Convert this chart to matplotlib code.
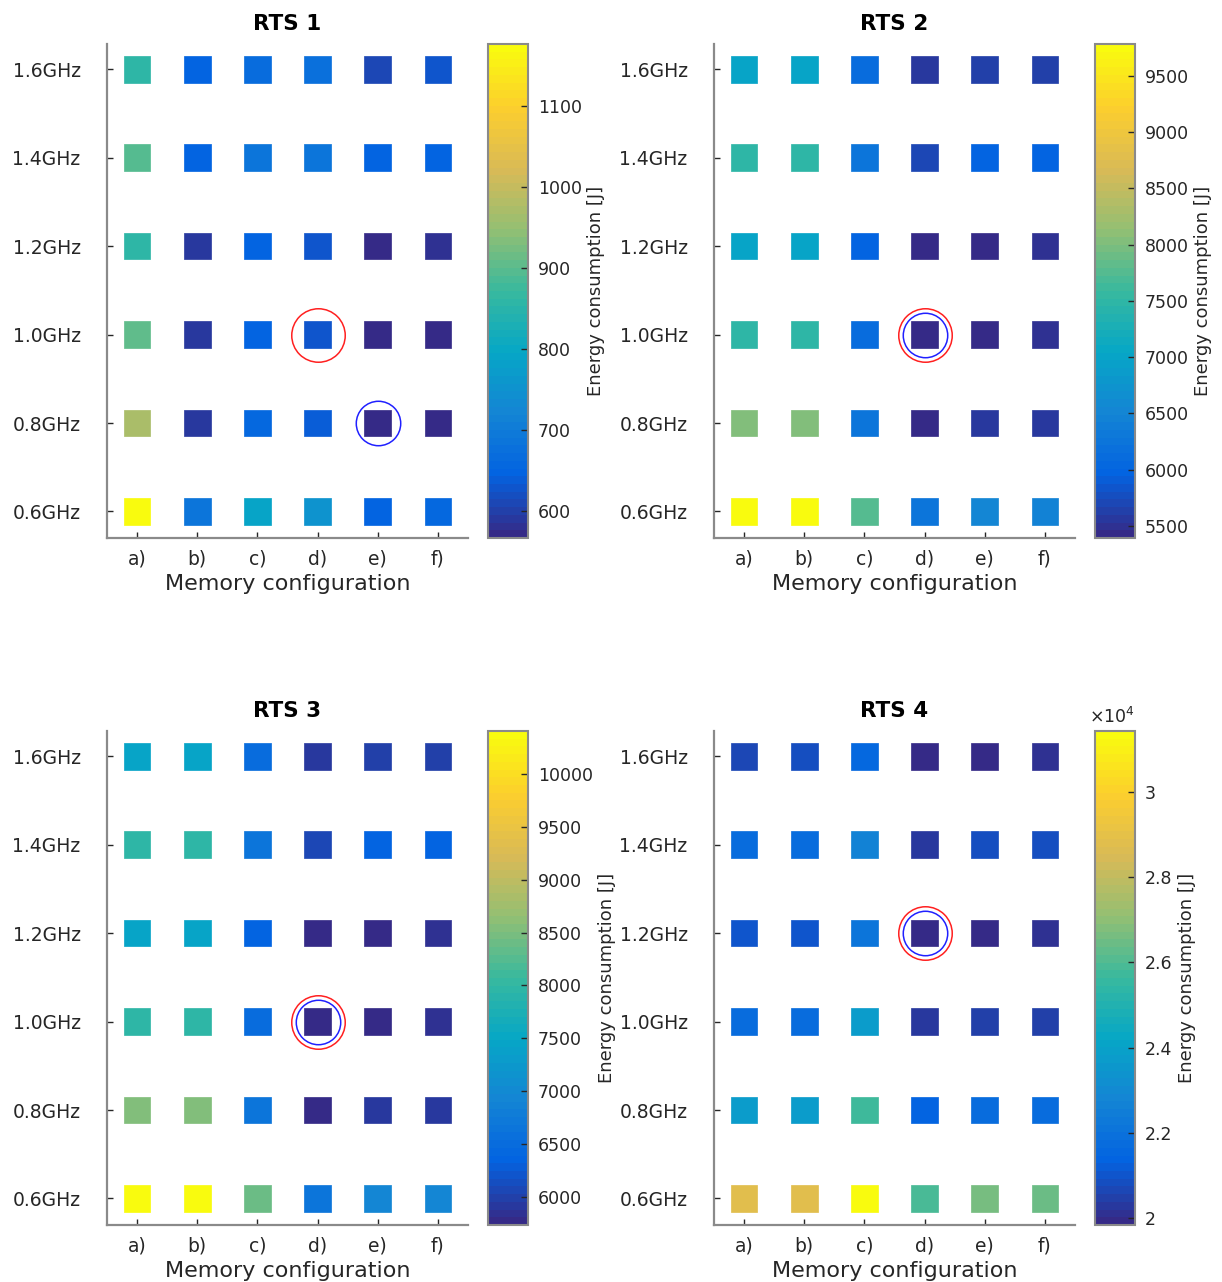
import matplotlib
matplotlib.use("Agg")
import matplotlib.pyplot as plt
import numpy as np
from matplotlib.colors import LinearSegmentedColormap
from matplotlib.ticker import MultipleLocator, FuncFormatter

plt.rcParams["font.family"] = "DejaVu Sans"
plt.rcParams["mathtext.default"] = "regular"

# parula-like colormap, 64 steps
parula = LinearSegmentedColormap.from_list(
    "parula",
    ["#352a87", "#0363e1", "#1485d4", "#06a7c6", "#38b99e",
     "#92bf73", "#d9ba56", "#fcce2e", "#f9fb0e"],
    N=64)

configs = ["a)", "b)", "c)", "d)", "e)", "f)"]
freqs = [0.6, 0.8, 1.0, 1.2, 1.4, 1.6]
freq_labels = ["0.6GHz", "0.8GHz", "1.0GHz", "1.2GHz", "1.4GHz", "1.6GHz"]

# energy [J], rows = frequency (0.6 -> 1.6 GHz), cols = memory config a) -> f)
rts1 = [[1177, 690, 787, 757, 652, 658],
        [970, 592, 660, 640, 567, 570],
        [903, 592, 645, 628, 570, 576],
        [860, 592, 645, 628, 573, 582],
        [900, 652, 690, 690, 645, 648],
        [854, 645, 670, 675, 610, 630]]

rts2 = [[9784, 9760, 7764, 6271, 6535, 6447],
        [8028, 8028, 6271, 5437, 5547, 5569],
        [7457, 7457, 6095, 5393, 5459, 5481],
        [7018, 7018, 6008, 5415, 5459, 5481],
        [7457, 7457, 6271, 5722, 5964, 5964],
        [7018, 7018, 6095, 5570, 5656, 5656]]

rts3 = [[10406, 10380, 8397, 6669, 6949, 6903],
        [8538, 8538, 6669, 5782, 5898, 5922],
        [7930, 7930, 6482, 5735, 5805, 5828],
        [7463, 7463, 6389, 5758, 5805, 5828],
        [7930, 7930, 6669, 6085, 6342, 6342],
        [7463, 7463, 6482, 5898, 6015, 5992]]

rts4 = [[28880, 28880, 31430, 25980, 26680, 26450],
        [23780, 23780, 25640, 21350, 21690, 21690],
        [21810, 21810, 23660, 20250, 20480, 20420],
        [21000, 21000, 22160, 19840, 20010, 20070],
        [21690, 21690, 22620, 20300, 20770, 20770],
        [20710, 20770, 21640, 19900, 20010, 20070]]

titles = ["RTS 1", "RTS 2", "RTS 3", "RTS 4"]
# selected configurations (config index 1..6, frequency)
red_pick = [(4, 1.0), (4, 1.0), (4, 1.0), (4, 1.2)]
blue_pick = [(5, 0.8), (4, 1.0), (4, 1.0), (4, 1.2)]
cbar_steps = [100, 500, 500, 2000]

fig = plt.figure(figsize=(12.22, 12.82), dpi=100)
W, H = 1222, 1282
ax_pos = [(107, 44), (714, 44), (107, 731), (714, 731)]
cb_pos = [(488, 44), (1095, 44), (488, 731), (1095, 731)]
axw, axh, cbw = 361, 494, 40

grey = "#262626"
X, Y = np.meshgrid(np.arange(1, 7), freqs)

for k, data in enumerate([rts1, rts2, rts3, rts4]):
    vals = np.array(data, dtype=float)
    x0, y0 = ax_pos[k]
    ax = fig.add_axes([x0 / W, 1 - (y0 + axh) / H, axw / W, axh / H])
    cx, cy = cb_pos[k]
    cax = fig.add_axes([cx / W, 1 - (cy + axh) / H, cbw / W, axh / H])

    sc = ax.scatter(X.ravel(), Y.ravel(), c=vals.ravel(), cmap=parula,
                    vmin=vals.min(), vmax=vals.max(), marker="s", s=370,
                    edgecolors="face", linewidths=0.5, zorder=2)

    rx, ry = red_pick[k]
    bx, by = blue_pick[k]
    ax.plot(rx, ry, "o", ms=38.5, mfc="none", mec="#ff2020", mew=1.1, zorder=3)
    ax.plot(bx, by, "o", ms=32.0, mfc="none", mec="#2020ff", mew=1.1, zorder=3)

    ax.set_xlim(0.5, 6.5)
    ax.set_ylim(0.54, 1.657)
    ax.set_xticks(range(1, 7))
    ax.set_xticklabels(configs)
    ax.set_yticks(freqs)
    ax.set_yticklabels(freq_labels)
    for s in ["top", "right"]:
        ax.spines[s].set_visible(False)
    for s in ["left", "bottom"]:
        ax.spines[s].set_color("#8a8a8a")
        ax.spines[s].set_linewidth(1.6)
    ax.tick_params(axis="y", direction="in", length=4, width=1, color=grey,
                   labelsize=13.5, labelcolor=grey, pad=19)
    ax.tick_params(axis="x", direction="in", length=4, width=1, color=grey,
                   labelsize=13.5, labelcolor=grey, pad=8)
    ax.set_xlabel("Memory configuration", fontsize=16, color=grey, labelpad=4)
    ax.set_title(titles[k], fontsize=15.5, fontweight="bold", pad=10)

    cb = fig.colorbar(sc, cax=cax)
    cb.outline.set_edgecolor("#8a8a8a")
    cb.outline.set_linewidth(1.5)
    cb.ax.yaxis.set_major_locator(MultipleLocator(cbar_steps[k]))
    cb.ax.tick_params(direction="in", length=5, width=1, color=grey,
                      labelsize=12.5, labelcolor=grey, pad=7)
    if k == 3:
        cb.ax.yaxis.set_major_formatter(FuncFormatter(lambda v, p: "%g" % round(v / 1e4, 2)))
        cb.ax.text(-0.15, 1.008, r"$\times10^4$", transform=cb.ax.transAxes,
                   ha="left", va="bottom", fontsize=12.5, color=grey)
    cb.set_label("Energy consumption [J]", fontsize=13, color=grey, labelpad=4)

fig.savefig("out.png", dpi=100)
